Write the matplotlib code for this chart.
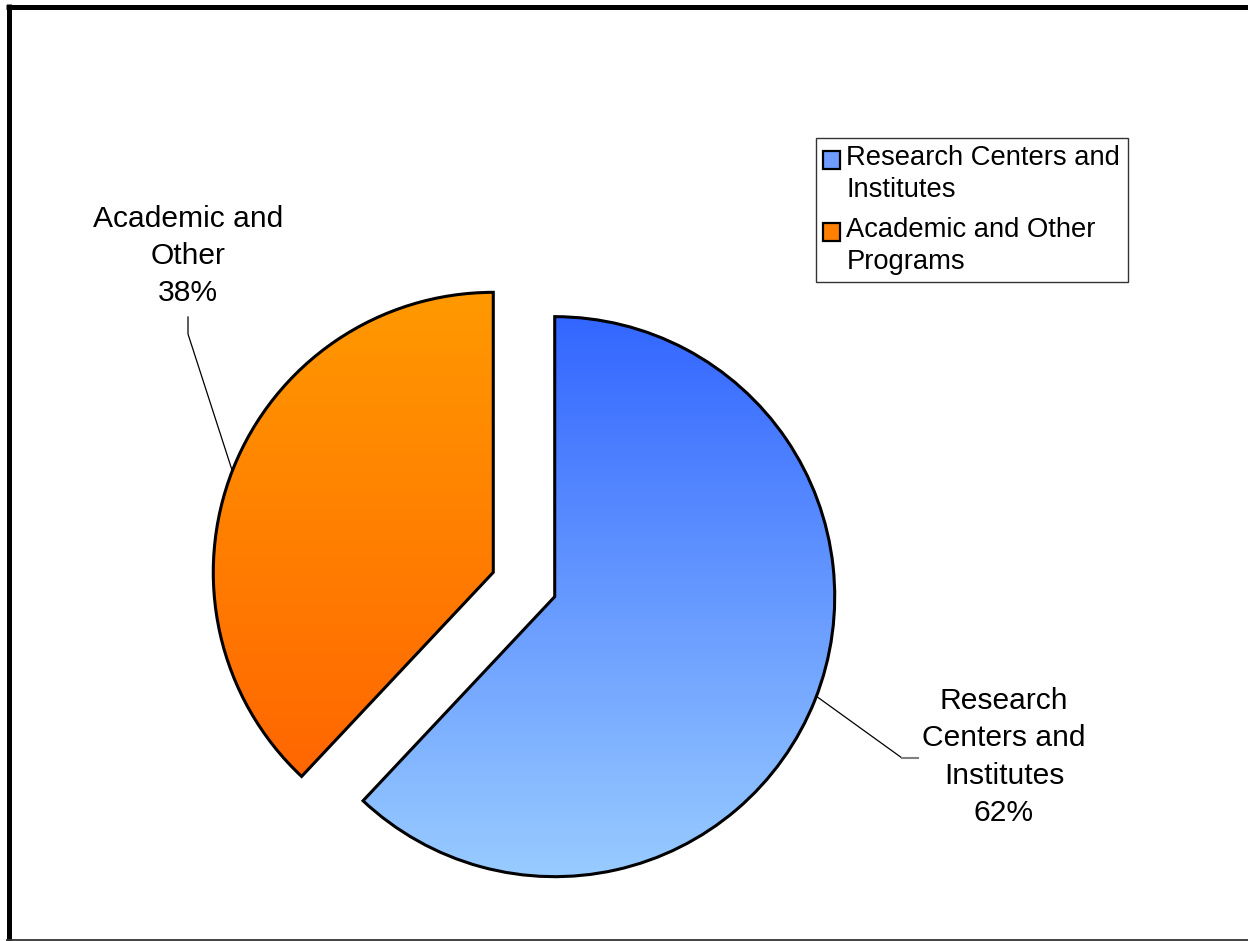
#!/usr/bin/env python3
"""
Exploded two-slice pie with vertical gradient fills
"""
import numpy as np
import matplotlib
matplotlib.use('Agg')
import matplotlib.pyplot as plt
from matplotlib.colors import LinearSegmentedColormap
from matplotlib.patches import Patch, Rectangle
from matplotlib.lines import Line2D
from matplotlib.legend_handler import HandlerPatch

#--------------------------------------
# Data
#--------------------------------------
categories = ['Research Centers and Institutes', 'Academic and Other Programs']
shares = [62, 38]
slice_labels = ['Research\nCenters and\nInstitutes\n62%', 'Academic and\nOther\n38%']
legend_labels = ['Research Centers and\nInstitutes', 'Academic and Other\nPrograms']
grad_colors = [('#3366FF', '#99CCFF'), ('#FF9900', '#FF6600')]
legend_colors = ['#6f9bff', '#FF7F00']

plt.rcParams['font.family'] = ['Liberation Sans', 'DejaVu Sans']

W, H = 1248, 941
R = 280.0            # pie radius in pixels
CX, CY = 524, 584.5  # pie centre in pixels

fig = plt.figure(figsize=(W/100, H/100), dpi=100)
ax = fig.add_axes([0, 0, 1, 1])

wedges, _ = ax.pie(shares, startangle=90, counterclock=False,
                   explode=[0.118, 0.118], radius=1,
                   wedgeprops=dict(facecolor='none', edgecolor='black',
                                   linewidth=2.2, zorder=3))
ax.set_aspect('auto')
ax.set_xlim(-CX/R, (W - CX)/R)
ax.set_ylim((CY - H)/R, CY/R)
ax.axis('off')

# gradient fill clipped to each wedge
grad = np.linspace(0, 1, 256).reshape(-1, 1)
for w, (c_top, c_bot) in zip(wedges, grad_colors):
    cmap = LinearSegmentedColormap.from_list('g', [c_top, c_bot])
    v = w.get_path().vertices
    x0, x1 = v[:, 0].min(), v[:, 0].max()
    y0, y1 = v[:, 1].min(), v[:, 1].max()
    im = ax.imshow(grad, cmap=cmap, extent=(x0, x1, y0, y1), origin='upper',
                   aspect='auto', zorder=2, interpolation='bilinear')
    im.set_clip_path(w)

def px(x, y):
    return (x - CX)/R, (CY - y)/R

# slice labels and leader lines
ax.text(*px(1004, 757), slice_labels[0], ha='center', va='center',
        fontsize=21.6, linespacing=1.42)
ax.text(*px(188, 256), slice_labels[1], ha='center', va='center',
        fontsize=21.6, linespacing=1.42)

lx, ly = zip(px(816, 696), px(902, 758))
ax.plot(lx, ly, color='black', lw=0.9, zorder=4)
lx, ly = zip(px(902, 758), px(918, 758))
ax.plot(lx, ly, color='#808080', lw=1.5, zorder=4)
lx, ly = zip(px(188, 317), px(188, 334), px(232, 470))
ax.plot(lx, ly, color='black', lw=0.9, zorder=4)

# legend: square markers sit beside the first line of each label
class TopSquare(HandlerPatch):
    def __init__(self, dy, **kw):
        super().__init__(**kw)
        self.dy = dy

    def _create_patch(self, legend, orig_handle, xdescent, ydescent,
                      width, height, fontsize):
        return Rectangle((-xdescent, -ydescent + self.dy), width, height)

handles = [Patch(facecolor=c, edgecolor='black', linewidth=1.6) for c in legend_colors]
leg = fig.legend(handles, legend_labels, loc='upper left',
                 bbox_to_anchor=(816/W, 1 - 138/H), bbox_transform=fig.transFigure,
                 fontsize=19.7, frameon=True, fancybox=False, borderaxespad=0,
                 handlelength=0.62, handleheight=0.62, handletextpad=0.22,
                 borderpad=0.27, labelspacing=0.52, framealpha=1,
                 handler_map={Patch: TopSquare(dy=10.5)})
for t in leg.get_texts():
    t.set_linespacing(1.28)
leg.get_frame().set_edgecolor('#333333')
leg.get_frame().set_linewidth(1.0)

# outer chart frame
fig.add_artist(Line2D([8.5/W, 8.5/W], [0, 1 - 4/H], transform=fig.transFigure,
                      color='black', lw=3.6, solid_capstyle='butt'))
fig.add_artist(Line2D([6/W, 1], [1 - 6.5/H, 1 - 6.5/H], transform=fig.transFigure,
                      color='black', lw=3.6, solid_capstyle='butt'))
fig.add_artist(Line2D([6/W, 1], [1.2/H, 1.2/H], transform=fig.transFigure,
                      color='#333333', lw=1.3, solid_capstyle='butt'))

fig.savefig('out.png', dpi=100)
